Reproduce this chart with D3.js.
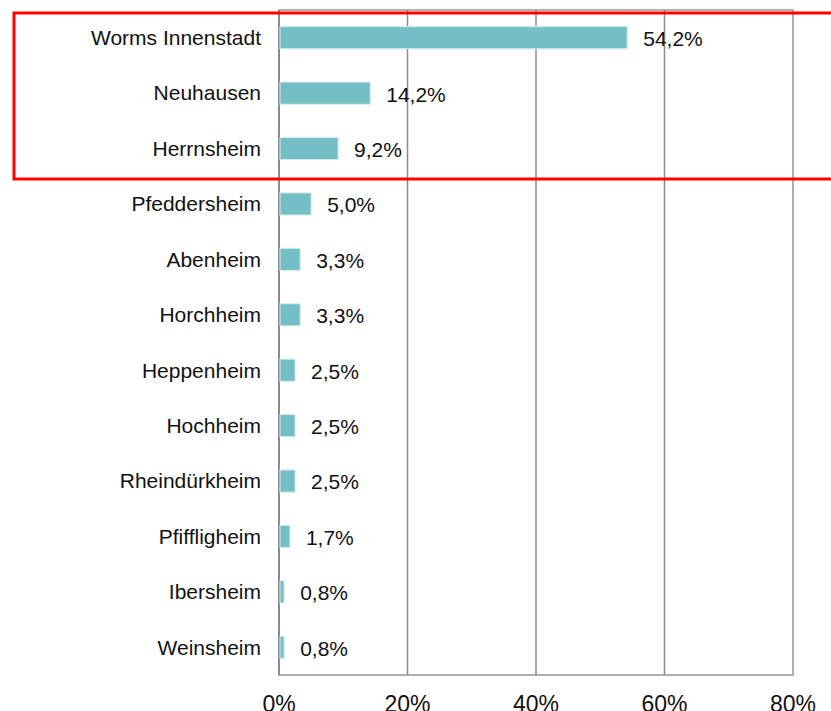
<!DOCTYPE html>
<html>
<head>
<meta charset="utf-8">
<script src="https://cdn.jsdelivr.net/npm/d3@7"></script>
<style>
  body { margin: 0; background: #fff; }
  svg { display: block; font-family: "Liberation Sans", Arial, sans-serif; }
</style>
</head>
<body>
<svg id="svg"></svg>
<script>
const width = 831;
const height = 711;

const margin = { top: 10, right: 38, bottom: 36, left: 279 };

// data
const districts = ["Worms Innenstadt", "Neuhausen", "Herrnsheim", "Pfeddersheim", "Abenheim",
    "Horchheim", "Heppenheim", "Hochheim", "Rheindürkheim", "Pfiffligheim", "Ibersheim", "Weinsheim"];
const shares = [54.2, 14.2, 9.2, 5.0, 3.3, 3.3, 2.5, 2.5, 2.5, 1.7, 0.8, 0.8];
const xTicks = [0, 20, 40, 60, 80];

const data = districts.map((d, i) => ({ name: d, value: shares[i] }));

let svg = d3.select("#svg")
    .attr("width", width)
    .attr("height", height)
    .attr("viewBox", [0, 0, width, height]);

let xScale = d3.scaleLinear()
    .domain([0, 80])
    .range([margin.left, width - margin.right]);

let yScale = d3.scaleBand()
    .domain(districts)
    .range([margin.top, height - margin.bottom])
    .paddingInner(0.6)
    .paddingOuter(0.3);

const fmt = v => v.toFixed(1).replace(".", ",") + "%";

// plot frame
svg.append("rect")
    .attr("x", margin.left)
    .attr("y", margin.top)
    .attr("width", xScale(80) - margin.left)
    .attr("height", height - margin.bottom - margin.top)
    .attr("fill", "none")
    .attr("stroke", "#b0b0b0")
    .attr("stroke-width", 2);

// vertical gridlines
svg.append("g")
    .selectAll("line")
    .data(xTicks.slice(1, -1))
    .enter()
    .append("line")
        .attr("x1", d => xScale(d))
        .attr("x2", d => xScale(d))
        .attr("y1", margin.top)
        .attr("y2", height - margin.bottom)
        .attr("stroke", "#8c8c8c")
        .attr("stroke-width", 1.5);

// left axis line
svg.append("line")
    .attr("x1", xScale(0))
    .attr("x2", xScale(0))
    .attr("y1", margin.top)
    .attr("y2", height - margin.bottom)
    .attr("stroke", "#8c8c8c")
    .attr("stroke-width", 2);

svg.append("g")
    .attr("fill", "#74bfc5")
    .selectAll(".bar")
    .data(data)
    .enter()
    .append("rect")
        .attr("class", "bar")
        .attr("x", xScale(0) + 1)
        .attr("y", d => yScale(d.name))
        .attr("width", d => xScale(d.value) - xScale(0) - 1)
        .attr("height", yScale.bandwidth())
        .attr("stroke", "#d8eef0")
        .attr("stroke-width", 1);

// value labels
svg.append("g")
    .selectAll("text")
    .data(data)
    .enter()
    .append("text")
        .attr("x", d => xScale(d.value) + 16)
        .attr("y", d => yScale(d.name) + yScale.bandwidth() / 2)
        .attr("dy", "0.4em")
        .attr("font-size", "21px")
        .attr("fill", "#111")
        .text(d => fmt(d.value));

// category labels
svg.append("g")
    .selectAll("text")
    .data(data)
    .enter()
    .append("text")
        .attr("x", 261)
        .attr("y", d => yScale(d.name) + yScale.bandwidth() / 2)
        .attr("dy", "0.35em")
        .attr("text-anchor", "end")
        .attr("font-size", "21px")
        .attr("fill", "#111")
        .text(d => d.name);

// x tick labels (cut off at the bottom edge, as in the original)
svg.append("g")
    .selectAll("text")
    .data(xTicks)
    .enter()
    .append("text")
        .attr("x", d => xScale(d))
        .attr("y", 712)
        .attr("text-anchor", "middle")
        .attr("font-size", "23px")
        .attr("fill", "#111")
        .text(d => d + "%");

// red highlight box
svg.append("rect")
    .attr("x", 14)
    .attr("y", 13)
    .attr("width", 830)
    .attr("height", 166)
    .attr("fill", "none")
    .attr("stroke", "#ff0000")
    .attr("stroke-width", 3);

svg.node();
</script>
</body>
</html>
